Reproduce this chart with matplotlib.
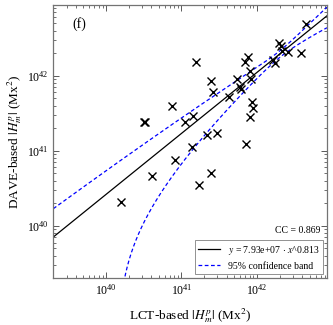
import numpy as np
import matplotlib
matplotlib.use("Agg")
import matplotlib.pyplot as plt
from matplotlib.ticker import LogLocator, NullFormatter

plt.rcParams['font.family'] = ['Liberation Serif', 'DejaVu Serif']
plt.rcParams['mathtext.fontset'] = 'stix'

# data (log10 values of |H_m^p| in Mx^2)
lct_log = [40.195, 40.605, 40.503, 40.517, 40.877, 40.914, 41.046, 41.143, 41.156,
           41.192, 41.236, 41.334, 41.391, 41.397, 41.412, 41.477, 41.633, 41.735,
           41.775, 41.788, 41.841, 41.852, 41.885, 41.907, 41.924, 41.907, 41.938,
           41.944, 42.216, 42.238, 42.291, 42.314, 42.327, 42.415, 42.579, 42.656]
dave_log = [40.320, 40.659, 41.379, 41.389, 41.596, 40.880, 41.387, 41.045, 41.463,
            42.187, 40.543, 41.209, 40.699, 41.933, 41.787, 41.243, 41.719, 41.956,
            41.849, 41.823, 42.179, 41.089, 42.249, 42.063, 41.956, 41.447, 41.652,
            41.577, 42.216, 42.165, 42.432, 42.396, 42.336, 42.323, 42.299, 42.696]

fit_a = 7.93e7
fit_b = 0.813
cc_value = 0.869
# relative half-width of the 95% band: sqrt(r0^2 + k^2 (log10 x - pivot)^2)
band_r0 = 0.10
band_k = 0.461
band_pivot = 42.3

xlim = (2.0e39, 8.5e42)
ylim = (2.0e39, 8.8e42)

x = 10.0 ** np.array(lct_log)
y = 10.0 ** np.array(dave_log)

fig = plt.figure(figsize=(3.33, 3.25), dpi=100)
ax = fig.add_axes([0.160, 0.1437, 0.822, 0.8409])

xf = np.geomspace(xlim[0], xlim[1], 3000)
yf = fit_a * xf ** fit_b
r = np.sqrt(band_r0 ** 2 + band_k ** 2 * (np.log10(xf) - band_pivot) ** 2)
upper = yf * (1 + r)
lower = yf * (1 - r)
lower = np.where(lower > 0, lower, np.nan)

ax.plot(x, y, 'x', color='black', ms=6, mew=1.0, zorder=3)
ax.plot(xf, yf, '-', color='black', lw=0.9,
        label=r'$y$ = 7.93e+07 $\cdot$ $x$^0.813')
ax.plot(xf, upper, '--', color='blue', lw=0.9, dashes=(3, 2),
        label='95% confidence band')
ax.plot(xf, lower, '--', color='blue', lw=0.9, dashes=(3, 2))

ax.set_xscale('log')
ax.set_yscale('log')
ax.set_xlim(*xlim)
ax.set_ylim(*ylim)

for axis in (ax.xaxis, ax.yaxis):
    axis.set_major_locator(LogLocator(base=10, numticks=10))
    axis.set_minor_locator(LogLocator(base=10, subs=np.arange(2, 10), numticks=20))
    axis.set_minor_formatter(NullFormatter())

ax.tick_params(which='both', direction='in', top=True, right=True,
               color='0.35', labelsize=8.5)
ax.tick_params(which='major', length=4, width=0.7)
ax.tick_params(which='minor', length=2, width=0.6)
for s in ax.spines.values():
    s.set_color('0.45')
    s.set_linewidth(0.9)

ax.set_xlabel(r'LCT-based $|H_m^p|$ (Mx$^2$)', fontsize=9.5, labelpad=6)
ax.set_ylabel(r'DAVE-based $|H_m^p|$ (Mx$^2$)', fontsize=9.5, labelpad=2)

ax.text(0.07, 0.915, '(f)', transform=ax.transAxes, fontsize=10)
ax.text(0.975, 0.175, f'CC = {cc_value:.3f}', transform=ax.transAxes,
        fontsize=7, ha='right', va='center')

leg = ax.legend(loc='lower right', fontsize=7, fancybox=False, framealpha=1,
                edgecolor='0.5', borderaxespad=0.4, handlelength=2.2)
leg.get_frame().set_linewidth(0.6)

fig.savefig('out.png', dpi=100)
